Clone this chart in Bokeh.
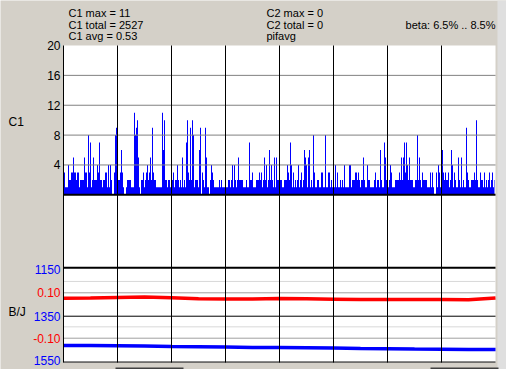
from bokeh.plotting import figure
from bokeh.models import Range1d, Label, BoxAnnotation, ColumnDataSource
from bokeh.embed import file_html
from bokeh.resources import INLINE

# ---- data: C1 per-pixel-column maxima (8 sections of 54 columns) ----
c1_sec1 = [3,3,1,1,1,4,2,2,3,3, 5,3,3,2,3,3,1,2,2,2, 2,5,3,3,1,8,3,7,1,2,
           5,2,2,2,4,3,7,2,2,1, 2,2,3,3,1,4,1,4,2,0, 0,3,8,9]
c1_sec2 = [2,2,2,3,6,3,1,0,0,1, 2,2,2,2,1,1,1,11,8,9, 10,5,1,0,2,2,3,1,2,3,
           4,2,3,5,2,9,3,2,2,1, 1,1,1,1,1,11,6,10,2,2, 1,2,2,1]
c1_sec3 = [2,2,3,1,2,2,4,2,1,2, 1,5,1,2,1,7,10,3,2,9, 2,10,8,1,2,2,2,1,6,9,
           0,3,2,1,9,5,1,1,0,2, 4,3,2,1,1,1,1,1,2,1, 2,1,1,1]
c1_sec4 = [1,1,1,2,2,1,2,4,1,4, 2,1,2,5,2,2,2,2,1,1, 1,2,1,1,7,2,2,3,1,1,
           1,2,2,2,3,2,3,1,2,5, 2,4,1,2,6,2,4,2,1,5, 1,5,2,2]
c1_sec5 = [2,2,2,1,1,2,2,2,4,3, 2,7,4,1,3,1,2,1,2,4, 1,2,3,1,2,6,5,4,1,5,
           6,1,2,1,8,3,1,1,2,2, 1,1,3,3,1,1,8,1,1,3, 3,1,2,1]
c1_sec6 = [1,1,4,1,3,1,1,2,1,2, 1,4,1,1,1,1,4,4,1,2, 2,2,3,3,2,3,2,1,2,2,
           5,2,1,1,4,2,2,1,1,1, 1,2,3,1,2,2,1,6,2,1, 1,7,5,2]
c1_sec7 = [1,1,2,4,3,1,1,1,2,2, 2,2,3,2,5,2,5,7,3,7, 4,2,5,2,2,2,1,1,2,2,
           8,2,5,2,1,3,2,2,2,2, 1,1,1,3,1,3,1,0,0,3, 1,4,3,1]
c1_sec8 = [1,6,3,2,3,2,2,3,1,2, 6,4,1,3,2,1,1,5,2,1, 5,1,2,1,1,9,3,2,1,1,
           2,2,2,3,2,10,2,1,1,3, 2,2,1,3,1,2,1,2,3,1, 2,3,1,2]
c1_values = c1_sec1 + c1_sec2 + c1_sec3 + c1_sec4 + c1_sec5 + c1_sec6 + c1_sec7 + c1_sec8
c1_index = list(range(len(c1_values)))
n_cols = len(c1_values)

# ---- lower panel series ----
trace_pos = [0, 27, 54, 81, 108, 135, 162, 189, 216, 243, 270, 297, 324, 351, 378, 405, 432]
beta_vals = [0.076, 0.077, 0.079, 0.081, 0.078, 0.074, 0.073, 0.073, 0.075, 0.074,
             0.072, 0.070, 0.070, 0.070, 0.070, 0.069, 0.077]
bj_vals = [1471, 1471, 1472, 1473, 1475, 1476, 1477, 1479, 1479, 1480,
           1481, 1483, 1484, 1486, 1487, 1488, 1488]

# ---- ticks / texts ----
c1_ticks = [4, 8, 12, 16, 20]
c1_tick_labels = ["4", "8", "12", "16", "20"]
c1_grid = [4, 8, 12, 16]
time_grid = [0, 54, 108, 162, 216, 270, 324, 378, 432]
bj_ticks = [1150, 1350, 1550]
bj_tick_labels = ["1150", "1350", "1550"]
beta_ticks = [0.10, -0.10]
beta_tick_labels = ["0.10", "-0.10"]
beta_minor = [0.15, -0.05]
header_left = ["C1 max = 11", "C1 total = 2527", "C1 avg = 0.53"]
header_mid = ["C2 max = 0", "C2 total = 0", "pifavg"]
header_right = "beta: 6.5% .. 8.5%"

FONT = "Liberation Sans"
FS = "12px"
FS_HEAD = "11px"
C1_TOP = 20
C1_BOTTOM = -22.47     # bottom edge of the plotting area in C1 units

# whole canvas is the frame; the white plotting area is drawn inside it
p = figure(width=506, height=369, output_backend="svg", toolbar_location=None,
           x_range=Range1d(-63, 443), y_range=Range1d(-23.40, 26.03),
           x_axis_location=None, y_axis_location=None,
           min_border=0, border_fill_color="#d4d0c8",
           background_fill_color="#d4d0c8", outline_line_color=None)
p.grid.visible = False
p.extra_y_ranges = {"bj": Range1d(1570.2, 45.5), "beta": Range1d(-0.2379, 1.3877)}

# plotting area
p.add_layout(BoxAnnotation(left=0, right=n_cols, bottom=C1_BOTTOM, top=C1_TOP,
                           fill_color="white", fill_alpha=1, line_color=None,
                           level="underlay"))
# right edge strip and scroll-bar thumbs of the window
p.add_layout(BoxAnnotation(left=n_cols + 2, right=443, top=26.03, bottom=-23.40,
                           fill_color="#dfdfdf", fill_alpha=1, line_color=None,
                           level="underlay"))
p.add_layout(BoxAnnotation(left=52, right=120, top=-23.12, bottom=-23.40,
                           fill_color="#404040", fill_alpha=1, line_color=None))
p.add_layout(BoxAnnotation(left=367, right=435, top=-23.12, bottom=-23.40,
                           fill_color="#404040", fill_alpha=1, line_color=None))

# C1 bars (one column per pixel)
src = ColumnDataSource(dict(x=c1_index, y=c1_values))
p.varea_step(x="x", y1=0, y2="y", step_mode="center", source=src, fill_color="#0000ff")

# lower panel grid lines
p.segment(x0=0, x1=n_cols, y0=beta_minor, y1=beta_minor, y_range_name="beta",
          line_color="#d8d8d8", line_width=1)
p.segment(x0=0, x1=n_cols, y0=beta_ticks, y1=beta_ticks, y_range_name="beta",
          line_color="#a0a0a0", line_width=1)

p.line(trace_pos, beta_vals, y_range_name="beta", line_color="#ff0000", line_width=3.5)
p.line(trace_pos, bj_vals, y_range_name="bj", line_color="#0000ff", line_width=3.5)

# C1 grid, time grid, baselines
p.segment(x0=0, x1=n_cols, y0=c1_grid, y1=c1_grid, line_color="#808080", line_width=1)
p.segment(x0=time_grid[:-1], x1=time_grid[:-1], y0=C1_BOTTOM, y1=C1_TOP,
          line_color="black", line_width=1)
p.segment(x0=[0], x1=[n_cols], y0=[0], y1=[0], line_color="black", line_width=2)
p.segment(x0=[0], x1=[n_cols], y0=[1150], y1=[1150], y_range_name="bj",
          line_color="black", line_width=2)
p.segment(x0=[0], x1=[n_cols], y0=[1350], y1=[1350], y_range_name="bj",
          line_color="black", line_width=1)
p.segment(x0=[0], x1=[n_cols], y0=[C1_BOTTOM + 0.07], y1=[C1_BOTTOM + 0.07],
          line_color="black", line_width=1)

# tick labels
for v, t in zip(c1_ticks, c1_tick_labels):
    p.add_layout(Label(x=-3, y=v, text=t, text_align="right", text_baseline="middle",
                       text_color="black", text_font=FONT, text_font_size=FS))
for v, t in zip(bj_ticks, bj_tick_labels):
    p.add_layout(Label(x=-3, y=v, y_range_name="bj", text=t, text_align="right",
                       text_baseline="middle", text_color="#0000ff",
                       text_font=FONT, text_font_size=FS,
                       y_offset=(4 if v == 1550 else (-2 if v == 1150 else 0))))
for v, t in zip(beta_ticks, beta_tick_labels):
    p.add_layout(Label(x=-3, y=v, y_range_name="beta", text=t, text_align="right",
                       text_baseline="middle", text_color="#ff0000",
                       text_font=FONT, text_font_size=FS))

# axis titles
p.add_layout(Label(x=-55, y=9.8, text="C1", text_align="left", text_baseline="middle",
                   text_color="black", text_font=FONT, text_font_size=FS))
p.add_layout(Label(x=-55, y=1333, y_range_name="bj", text="B/J", text_align="left",
                   text_baseline="middle", text_color="black", text_font=FONT,
                   text_font_size=FS))

# header
header_y = [24.42, 22.81, 21.21]
for t, yv in zip(header_left, header_y):
    p.add_layout(Label(x=5, y=yv, text=t, text_align="left", text_baseline="alphabetic",
                       text_color="black", text_font=FONT, text_font_size=FS_HEAD))
for t, yv in zip(header_mid, header_y):
    p.add_layout(Label(x=203, y=yv, text=t, text_align="left", text_baseline="alphabetic",
                       text_color="black", text_font=FONT, text_font_size=FS_HEAD))
p.add_layout(Label(x=n_cols, y=header_y[1], text=header_right, text_align="right",
                   text_baseline="alphabetic", text_color="black", text_font=FONT,
                   text_font_size=FS_HEAD))

open("out.html", "w").write(file_html(p, INLINE))
